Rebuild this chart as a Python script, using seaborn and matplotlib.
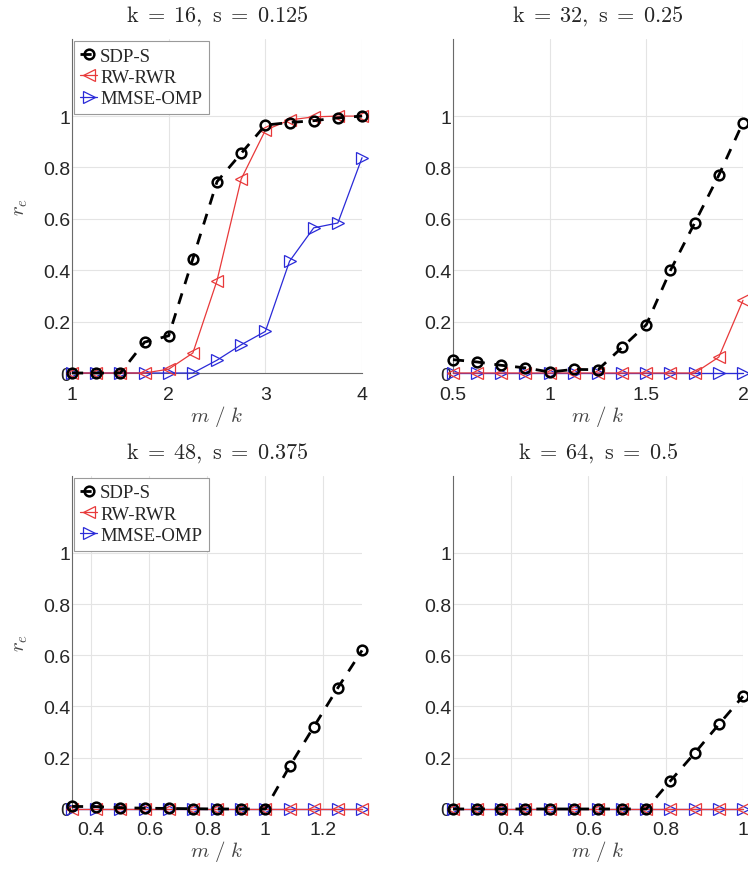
import numpy as np
import matplotlib
matplotlib.use("Agg")
import matplotlib.pyplot as plt
import seaborn as sns
from matplotlib.ticker import AutoMinorLocator

# m / k grids (m = 16..64 step 4)
x_k16 = [1.0, 1.25, 1.5, 1.75, 2.0, 2.25, 2.5, 2.75, 3.0, 3.25, 3.5, 3.75, 4.0]
x_k32 = [0.5, 0.625, 0.75, 0.875, 1.0, 1.125, 1.25, 1.375, 1.5, 1.625, 1.75, 1.875, 2.0]
x_k48 = [16/48, 20/48, 24/48, 28/48, 32/48, 36/48, 40/48, 44/48, 48/48, 52/48, 56/48, 60/48, 64/48]
x_k64 = [0.25, 0.3125, 0.375, 0.4375, 0.5, 0.5625, 0.625, 0.6875, 0.75, 0.8125, 0.875, 0.9375, 1.0]

sdp_k16 = [0, 0, 0, 0.12, 0.145, 0.445, 0.745, 0.855, 0.965, 0.975, 0.982, 0.993, 1.0]
rw_k16 = [0, 0, 0, 0, 0.015, 0.078, 0.36, 0.755, 0.945, 0.985, 0.997, 1.0, 1.0]
omp_k16 = [0, 0, 0, 0, 0, 0, 0.05, 0.11, 0.162, 0.435, 0.565, 0.584, 0.838]

sdp_k32 = [0.052, 0.043, 0.03, 0.02, 0.004, 0.014, 0.013, 0.10, 0.188, 0.40, 0.584, 0.77, 0.975]
rw_k32 = [0, 0, 0, 0, 0, 0, 0, 0, 0, 0, 0, 0.062, 0.283]
omp_k32 = [0] * 13

sdp_k48 = [0.01, 0.009, 0.005, 0.003, 0.002, 0.001, 0, 0, 0, 0.166, 0.32, 0.473, 0.619]
rw_k48 = [0] * 13
omp_k48 = [0] * 13

sdp_k64 = [0, 0, 0, 0, 0, 0, 0, 0, 0, 0.11, 0.218, 0.33, 0.44]
rw_k64 = [0] * 13
omp_k64 = [0] * 13

titles = [r"$\mathrm{k}\;=\;16,\ \mathrm{s}\;=\;0.125$", r"$\mathrm{k}\;=\;32,\ \mathrm{s}\;=\;0.25$",
          r"$\mathrm{k}\;=\;48,\ \mathrm{s}\;=\;0.375$", r"$\mathrm{k}\;=\;64,\ \mathrm{s}\;=\;0.5$"]
xlims = [(1, 4), (0.5, 2), (16/48, 64/48), (0.25, 1)]
xticks = [[1, 2, 3, 4], [0.5, 1, 1.5, 2], [0.4, 0.6, 0.8, 1, 1.2], [0.4, 0.6, 0.8, 1]]
yticks = [0, 0.2, 0.4, 0.6, 0.8, 1]

panels = [
    (x_k16, sdp_k16, rw_k16, omp_k16),
    (x_k32, sdp_k32, rw_k32, omp_k32),
    (x_k48, sdp_k48, rw_k48, omp_k48),
    (x_k64, sdp_k64, rw_k64, omp_k64),
]

sns.set_style("white")
plt.rcParams["font.family"] = ["Liberation Sans", "DejaVu Sans"]
plt.rcParams["mathtext.fontset"] = "cm"

fig = plt.figure(figsize=(7.48, 8.70), dpi=100)
rects = [
    [0.0963, 0.5701, 0.3877, 0.3839],
    [0.6056, 0.5701, 0.3877, 0.3839],
    [0.0963, 0.0690, 0.3877, 0.3828],
    [0.6056, 0.0690, 0.3877, 0.3828],
]

tick_col = "#262626"
red = "#e8393a"
blue = "#2a2ad8"

for i, (x, sdp, rw, omp) in enumerate(panels):
    ax = fig.add_axes(rects[i])
    sns.lineplot(x=x, y=omp, ax=ax, color=blue, lw=0.9, marker=">", markersize=9,
                 markerfacecolor="none", markeredgecolor=blue, markeredgewidth=0.9,
                 label="MMSE-OMP", zorder=3, clip_on=False)
    sns.lineplot(x=x, y=rw, ax=ax, color=red, lw=0.9, marker="<", markersize=9,
                 markerfacecolor="none", markeredgecolor=red, markeredgewidth=0.9,
                 label="RW-RWR", zorder=3, clip_on=False)
    sns.lineplot(x=x, y=sdp, ax=ax, color="black", lw=2.0, linestyle=(0, (4, 3.5)),
                 marker="o", markersize=7, markerfacecolor="none",
                 markeredgecolor="black", markeredgewidth=1.8,
                 label="SDP-S", zorder=4, clip_on=False)
    ax.set_xlim(*xlims[i])
    ax.set_ylim(0, 1.3)
    ax.set_xticks(xticks[i])
    ax.set_xticklabels([f"{t:g}" for t in xticks[i]])
    ax.set_yticks(yticks)
    ax.set_yticklabels([f"{t:g}" for t in yticks])
    ax.yaxis.set_minor_locator(AutoMinorLocator(5))
    ax.grid(True, which="major", color="#e4e4e4", lw=0.8)
    ax.set_axisbelow(True)
    for side in ["top", "right"]:
        ax.spines[side].set_visible(False)
    for side in ["left", "bottom"]:
        ax.spines[side].set_color("#6a6a6a")
        ax.spines[side].set_linewidth(0.8)
    ax.tick_params(axis="both", which="major", labelsize=14, colors=tick_col,
                   direction="in", length=4, pad=1)
    ax.tick_params(axis="y", which="minor", direction="in", length=2, color="#6a6a6a")
    ax.tick_params(axis="x", which="both", length=0, pad=9)
    ax.set_title(titles[i], fontsize=16, pad=13)
    ax.set_xlabel(r"$m\ /\ k$", fontsize=15, color="#444444", labelpad=0)
    if i % 2 == 0:
        ax.set_ylabel(r"$r_e$", fontsize=15, color="#444444", labelpad=10)
        handles, labels = ax.get_legend_handles_labels()
        leg = ax.legend(handles[::-1], labels[::-1], loc="upper left",
                        prop={"family": "Liberation Serif", "size": 13.5},
                        handlelength=0.9, handletextpad=0.15, borderpad=0.35,
                        labelspacing=0.22, borderaxespad=0.1, fancybox=False,
                        framealpha=1, edgecolor="#9a9a9a")
        leg.get_frame().set_linewidth(0.8)
    else:
        ax.set_ylabel("")
        ax.get_legend().remove()

fig.savefig("out.png", dpi=100)
